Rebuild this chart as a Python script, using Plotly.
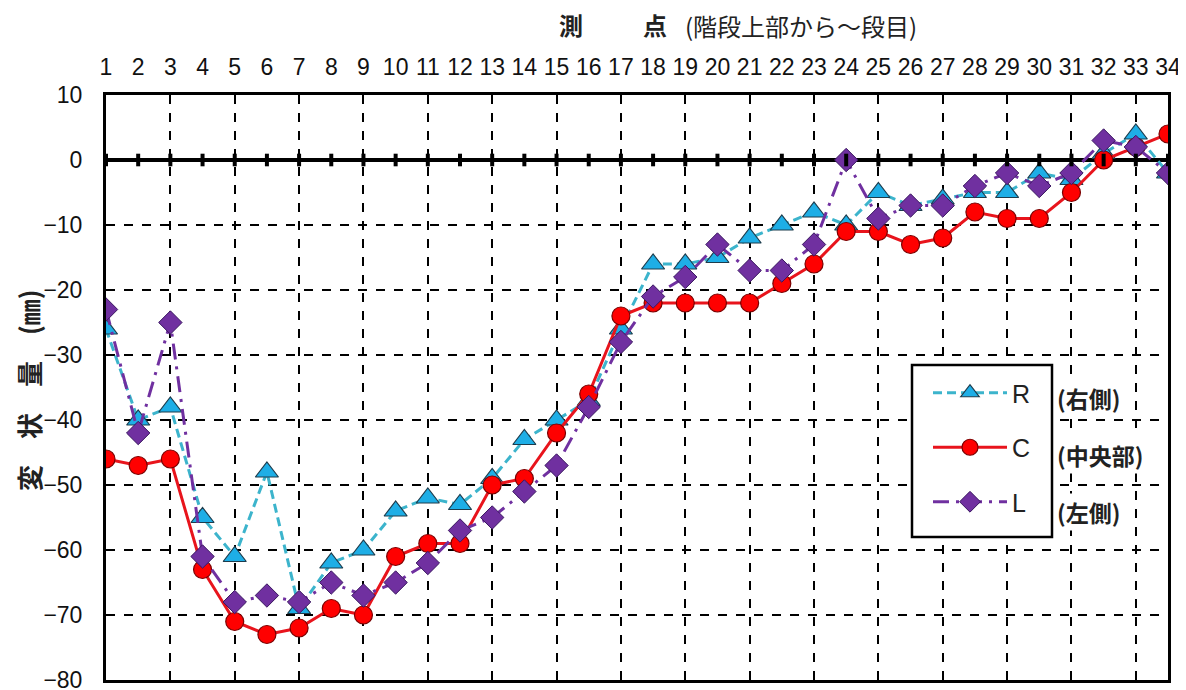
import plotly.graph_objects as go

points = list(range(1, 35))
R = [-26, -40, -38, -55, -61, -48, -69, -62, -60, -54, -52, -53, -49, -43, -40, -37, -26,
     -16, -16, -15, -12, -10, -8, -10, -5, -7, -6, -5, -5, -2, -3, 1, 4, -2]
C = [-46, -47, -46, -63, -71, -73, -72, -69, -70, -61, -59, -59, -50, -49, -42, -36, -24,
     -22, -22, -22, -22, -19, -16, -11, -11, -13, -12, -8, -9, -9, -5, 0, 2, 4]
L = [-23, -42, -25, -61, -68, -67, -68, -65, -67, -65, -62, -57, -55, -51, -47, -38, -28,
     -21, -18, -13, -17, -17, -13, 0, -9, -7, -7, -4, -2, -4, -2, 3, 2, -2]
zero = [0] * len(points)
series_names = ["R", "C", "L"]
side_labels = ["(右側)", "(中央部)", "(左側)"]
y_ticks = list(range(-80, 11, 10))

NUM_FONT = "Liberation Sans, Arial, sans-serif"
JP_FONT = "Noto Sans CJK JP, sans-serif"

OFF = 8  # page body margin
SW, SH = 1186, 690
W, H = SW - OFF, SH - OFF
# plot area in screen pixels
PL, PR, PT, PB = 106, 1168, 95, 680


def px(xs):
    return (xs - PL) / (PR - PL)


def py(ys):
    return (PB - ys) / (PB - PT)


fig = go.Figure()

# small blips along the zero line (on overlay axis carrying odd-point gridlines)
fig.add_trace(go.Scatter(
    x=points, y=zero, mode="markers", xaxis="x2", showlegend=False, hoverinfo="skip",
    marker=dict(symbol="line-ns", size=9, line=dict(width=4, color="black")),
))

fig.add_trace(go.Scatter(
    x=points, y=R, name=series_names[0], mode="lines+markers", legendgroup="R",
    line=dict(color="#3cb4cc", width=3, dash="9px,5px"),
    marker=dict(symbol="triangle-up", size=20, color="#1eaee6",
                line=dict(color="#1d3c4c", width=1.2)),
))
fig.add_trace(go.Scatter(
    x=points, y=C, name=series_names[1], mode="lines+markers", legendgroup="C",
    line=dict(color="#e8141c", width=3),
    marker=dict(symbol="circle", size=18, color="#ff0000",
                line=dict(color="#7a0000", width=1.2)),
))
fig.add_trace(go.Scatter(
    x=points, y=L, name=series_names[2], mode="lines+markers", legendgroup="L",
    line=dict(color="#7030a0", width=3, dash="16px,7px,3px,7px"),
    marker=dict(symbol="diamond", size=18, color="#7030a0",
                line=dict(color="#3a1860", width=1)),
))

tick_txt = [("−" + str(-v)) if v < 0 else str(v) for v in y_ticks]

fig.update_layout(
    width=W, height=H,
    margin=dict(l=PL - OFF, r=SW - PR, t=PT - OFF, b=SH - PB, autoexpand=False),
    paper_bgcolor="white", plot_bgcolor="white",
    showlegend=True,
    legend=dict(
        x=px(928), y=py(370), xanchor="left", yanchor="top",
        borderwidth=0, bgcolor="rgba(0,0,0,0)",
        font=dict(family=NUM_FONT, size=25, color="#222"),
        tracegroupgap=19, itemwidth=74,
    ),
    xaxis=dict(
        range=[1, 34], side="top", tickmode="array", tickvals=points,
        ticktext=[str(p) for p in points], showgrid=False, zeroline=False,
        showline=True, mirror=True, linecolor="black", linewidth=3,
        ticks="", tickfont=dict(family=NUM_FONT, size=23, color="#111"),
        ticklabelstandoff=8, automargin=False, ticklabeloverflow="allow",
    ),
    xaxis2=dict(
        range=[1, 34], overlaying="x", side="bottom", tick0=1, dtick=2,
        showgrid=True, gridcolor="black", gridwidth=1.5, griddash="dash",
        showticklabels=False, ticks="", zeroline=False, showline=False,
        automargin=False,
    ),
    yaxis=dict(
        range=[-80, 10], tickmode="array", tickvals=y_ticks, ticktext=tick_txt,
        showgrid=True, gridcolor="black", gridwidth=1.5, griddash="dash",
        zeroline=True, zerolinecolor="black", zerolinewidth=4,
        showline=True, mirror=True, linecolor="black", linewidth=3,
        ticks="", tickfont=dict(family=NUM_FONT, size=23, color="#111"),
        ticklabelstandoff=16, automargin=False, ticklabeloverflow="allow",
    ),
)

# legend frame
fig.add_shape(type="rect", xref="paper", yref="paper",
              x0=px(912), x1=px(1052), y0=py(537), y1=py(365),
              line=dict(color="black", width=2.5), fillcolor="white", layer="above")

# axis titles
fig.add_annotation(text="<b>測</b>", xref="paper", yref="paper", x=px(571),
                   y=py(25), showarrow=False, xanchor="center", yanchor="middle",
                   font=dict(family=JP_FONT, size=24, color="#222"))
fig.add_annotation(text="<b>点</b>", xref="paper", yref="paper", x=px(655),
                   y=py(25), showarrow=False, xanchor="center", yanchor="middle",
                   font=dict(family=JP_FONT, size=24, color="#222"))
fig.add_annotation(text="(階段上部から～段目)", xref="paper", yref="paper", x=px(683),
                   y=py(26), showarrow=False, xanchor="left", yanchor="middle",
                   font=dict(family=JP_FONT, size=24, color="#222"))
fig.add_annotation(text="<b>変　状　量　(㎜)</b>", xref="paper", yref="paper",
                   x=px(28), y=py(390), textangle=-90,
                   showarrow=False, xanchor="center", yanchor="middle",
                   font=dict(family=JP_FONT, size=26, color="#222"))

# labels beside legend
for i, lab in enumerate(side_labels):
    ypix = [398, 455, 512][i]
    fig.add_annotation(text="<b>" + lab + "</b>", xref="paper", yref="paper",
                       x=px(1055), y=py(ypix), showarrow=False,
                       xanchor="left", yanchor="middle", bgcolor="white",
                       font=dict(family=JP_FONT, size=23, color="#222"))

fig.write_html("out.html")
